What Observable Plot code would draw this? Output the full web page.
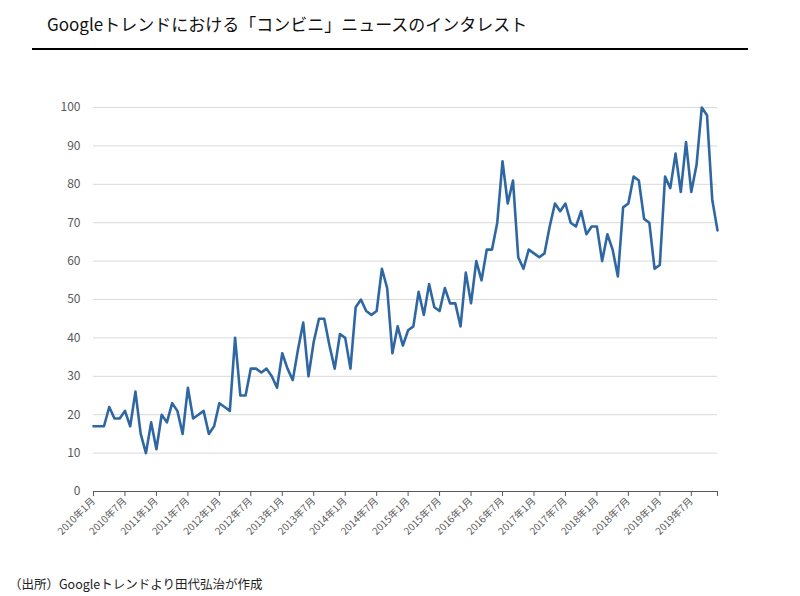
<!DOCTYPE html>
<html>
<head>
<meta charset="utf-8">
<script src="https://cdn.jsdelivr.net/npm/d3@7"></script>
<script src="https://cdn.jsdelivr.net/npm/@observablehq/plot@0.6"></script>
<style>
  body { margin: 0; background: #fff; font-family: "Noto Sans CJK JP", "Noto Sans", sans-serif; }
  #title { padding: 12px 0 0 47px; font-size: 17px; line-height: 24px; color: #111; height: 36px; box-sizing: border-box; }
  #rule { margin: 12px 0 0 32px; width: 716px; border-top: 2px solid #000; height: 0; }
  #caption { padding: 23px 0 0 9px; font-size: 12.5px; color: #222; }
</style>
</head>
<body>
<div id="title">Googleトレンドにおける「コンビニ」ニュースのインタレスト</div>
<div id="rule"></div>
<div id="chart"></div>
<div id="caption">（出所）Googleトレンドより田代弘治が作成</div>
<script>
// Monthly interest, 2010年1月 .. 2019年12月 (120 months)
const values = [
  17, 17, 17, 22, 19, 19, 21, 17, 26, 15, 10, 18,
  11, 20, 18, 23, 21, 15, 27, 19, 20, 21, 15, 17,
  23, 22, 21, 40, 25, 25, 32, 32, 31, 32, 30, 27,
  36, 32, 29, 37, 44, 30, 39, 45, 45, 38, 32, 41,
  40, 32, 48, 50, 47, 46, 47, 58, 53, 36, 43, 38,
  42, 43, 52, 46, 54, 48, 47, 53, 49, 49, 43, 57,
  49, 60, 55, 63, 63, 70, 86, 75, 81, 61, 58, 63,
  62, 61, 62, 69, 75, 73, 75, 70, 69, 73, 67, 69,
  69, 60, 67, 63, 56, 74, 75, 82, 81, 71, 70, 58,
  59, 82, 79, 88, 78, 91, 78, 85, 100, 98, 76, 68
];
const tickLabels = [
  "2010年1月", "2010年7月", "2011年1月", "2011年7月", "2012年1月",
  "2012年7月", "2013年1月", "2013年7月", "2014年1月", "2014年7月",
  "2015年1月", "2015年7月", "2016年1月", "2016年7月", "2017年1月",
  "2017年7月", "2018年1月", "2018年7月", "2019年1月", "2019年7月"
];
const yTicks = [0, 10, 20, 30, 40, 50, 60, 70, 80, 90, 100];
const tickStep = 6;

const data = values.map((v, i) => ({ i, v }));
const tickPositions = tickLabels.map((_, k) => k * tickStep);
const lastIndex = values.length - 1;
const font = '"Noto Sans CJK JP", "Noto Sans", sans-serif';

const chart = Plot.plot({
  width: 800,
  height: 501,
  marginTop: 57,
  marginBottom: 60,
  marginLeft: 93,
  marginRight: 83,
  style: { fontFamily: font, color: "#595959", background: "#fff" },
  x: { domain: [0, lastIndex] },
  y: { domain: [0, 100] },
  marks: [
    Plot.gridY(yTicks, { stroke: "#d9d9d9", strokeOpacity: 1, strokeWidth: 1 }),
    Plot.axisY(yTicks, { tickSize: 0, tickPadding: 13, label: null, fontSize: 12, fill: "#595959" }),
    Plot.ruleY([0], { stroke: "#595959", strokeWidth: 1.2 }),
    Plot.axisX(tickPositions, {
      tickFormat: (d) => tickLabels[d / tickStep],
      tickRotate: -45, tickSize: 5, tickPadding: 3, label: null, fontSize: 10,
      stroke: "#595959", fill: "#595959"
    }),
    Plot.axisX([lastIndex], { tickFormat: () => "", tickSize: 5, label: null, stroke: "#595959" }),
    Plot.line(data, { x: "i", y: "v", stroke: "#2f67a3", strokeWidth: 2.6, strokeLinejoin: "round" })
  ]
});
document.getElementById("chart").append(chart);
</script>
</body>
</html>
